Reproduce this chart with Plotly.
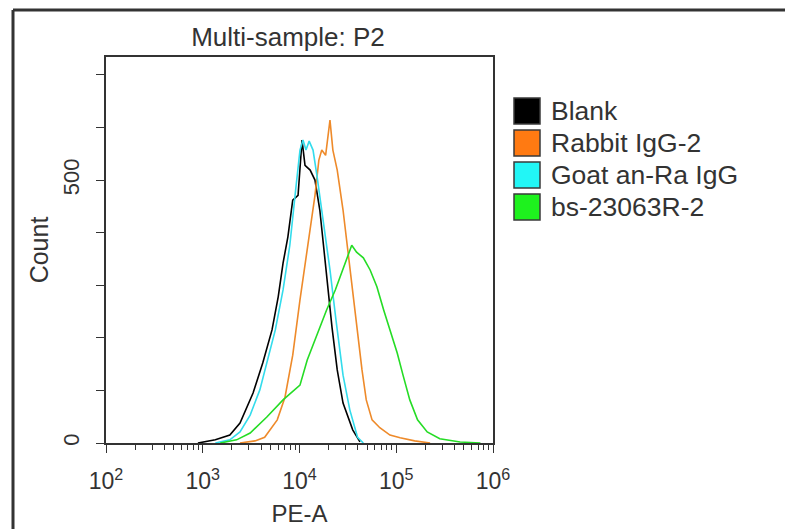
import numpy as np
import plotly.graph_objects as go

# ---------------- data ----------------
series_names = ["Blank", "Rabbit IgG-2", "Goat an-Ra IgG", "bs-23063R-2"]

blank_log10 = [2.95, 3.05, 3.13, 3.28, 3.385, 3.52, 3.62, 3.716, 3.78, 3.83, 3.88, 3.93,
               3.985, 4.026, 4.057, 4.11, 4.16, 4.21, 4.28, 4.336, 4.39, 4.45, 4.55, 4.625]
blank_count = [0, 3, 6, 15, 38, 95, 152, 215, 278, 342, 392, 462,
               471, 576, 528, 519, 500, 443, 315, 220, 139, 76, 25, 2]

rabbit_log10 = [3.385, 3.54, 3.64, 3.77, 3.85, 3.93, 4.005, 4.057, 4.11, 4.16, 4.2, 4.23,
                4.27, 4.315, 4.345, 4.39, 4.45, 4.5, 4.54, 4.59, 4.646, 4.69, 4.75, 4.83,
                4.935, 5.04, 5.19, 5.35]
rabbit_count = [0, 4, 11, 44, 87, 167, 272, 342, 405, 471, 538, 557,
                547, 614, 557, 519, 443, 367, 304, 220, 139, 82, 44, 29,
                15, 10, 4, 0]

goat_log10 = [3.13, 3.28, 3.385, 3.49, 3.59, 3.67, 3.75, 3.83, 3.9, 3.96, 4.005, 4.036,
              4.067, 4.1, 4.14, 4.18, 4.23, 4.315, 4.377, 4.45, 4.52, 4.6, 4.66]
goat_count = [0, 6, 21, 53, 101, 158, 215, 291, 376, 481, 557, 576,
              557, 574, 557, 509, 443, 329, 234, 129, 63, 11, 0]

bs_log10 = [3.18, 3.35, 3.49, 3.66, 3.83, 4.005, 4.08, 4.18, 4.28, 4.37, 4.44, 4.5,
            4.54, 4.59, 4.66, 4.73, 4.8, 4.87, 4.935, 5.01, 5.07, 5.14, 5.22, 5.32,
            5.45, 5.66, 5.87]
bs_count = [0, 6, 19, 49, 82, 110, 158, 205, 253, 291, 325, 357,
            376, 363, 352, 329, 297, 253, 215, 171, 129, 82, 44, 21,
            8, 2, 0]

x_tick_exponents = [2, 3, 4, 5, 6]
y_major_ticks = [0, 500]
y_minor_ticks = [100, 200, 300, 400, 600, 700]

# ---------------- styling ----------------
line_colors = ["#000000", "#ee8a2a", "#33dcec", "#25dc25"]
legend_colors = ["#000000", "#ff7a12", "#22f6f6", "#1ef21e"]
FONT = "Liberation Sans, Arial, sans-serif"
TXT = "#333333"

W, H = 785, 529
ML, MR, MT, MB = 106, 292, 57, 86
PW, PH = W - ML - MR, H - MT - MB


def px_x(px):
    return (px - ML) / PW


def px_y(py):
    return (H - MB - py) / PH


fig = go.Figure()
xs = [blank_log10, rabbit_log10, goat_log10, bs_log10]
ys = [blank_count, rabbit_count, goat_count, bs_count]
for name, lx, cy, col in zip(series_names, xs, ys, line_colors):
    fig.add_trace(go.Scatter(
        x=10 ** np.array(lx), y=cy, name=name, mode="lines",
        line=dict(color=col, width=1.6), showlegend=False,
    ))

# x minor ticks (2..9 within each decade)
minor_vals = [m * 10 ** e for e in x_tick_exponents[:-1] for m in range(2, 10)]

fig.update_xaxes(
    type="log", range=[2, 6], automargin=False,
    tickvals=[10 ** e for e in x_tick_exponents],
    ticktext=[f"10<sup>{e}</sup>" for e in x_tick_exponents],
    ticks="outside", ticklen=8, tickwidth=1.3, tickcolor="#333",
    minor=dict(tickvals=minor_vals, ticks="outside", ticklen=5, tickwidth=1.2, tickcolor="#333"),
    showgrid=False, zeroline=False,
    showline=True, linecolor="#333", linewidth=1.6, mirror=True,
    tickfont=dict(family=FONT, size=23, color=TXT),
    ticklabelstandoff=9,
    title=dict(text="PE-A", font=dict(family=FONT, size=24, color=TXT), standoff=12),
)
fig.update_yaxes(
    range=[0, 734], automargin=False,
    tickvals=y_major_ticks, ticktext=[str(v) for v in y_major_ticks], tickangle=-90,
    ticks="outside", ticklen=8, tickwidth=1.3, tickcolor="#333",
    minor=dict(tickvals=y_minor_ticks, ticks="outside", ticklen=8, tickwidth=1.3, tickcolor="#333"),
    showgrid=False, zeroline=False,
    showline=True, linecolor="#333", linewidth=1.6, mirror=True,
    tickfont=dict(family=FONT, size=22, color=TXT),
    ticklabelstandoff=8,
    title=dict(text="Count", font=dict(family=FONT, size=25, color=TXT), standoff=4),
)

shapes = []
annotations = []
# manual legend with large squares
row_centers = [111, 143, 175, 207]
for name, col, cy in zip(series_names, legend_colors, row_centers):
    shapes.append(dict(type="rect", xref="paper", yref="paper",
                       x0=px_x(514), x1=px_x(540), y0=px_y(cy + 13), y1=px_y(cy - 13),
                       fillcolor=col, line=dict(color="#3a3a3a", width=1.5)))
    annotations.append(dict(text=name, xref="paper", yref="paper",
                            x=px_x(549), y=px_y(cy), xanchor="left", yanchor="middle",
                            showarrow=False, font=dict(family=FONT, size=26.5, color=TXT)))

# outer frame (top and left edges visible)
shapes.append(dict(type="line", xref="paper", yref="paper",
                   x0=px_x(13), x1=px_x(800), y0=px_y(10), y1=px_y(10),
                   line=dict(color="#333", width=3)))
shapes.append(dict(type="line", xref="paper", yref="paper",
                   x0=px_x(13), x1=px_x(13), y0=px_y(10), y1=px_y(540),
                   line=dict(color="#333", width=3)))

fig.update_layout(
    width=W, height=H,
    margin=dict(l=ML, r=MR, t=MT, b=MB),
    paper_bgcolor="white", plot_bgcolor="white",
    title=dict(text="Multi-sample: P2", x=288 / W, xanchor="center",
               y=1 - 37 / H, yanchor="middle",
               font=dict(family=FONT, size=26, color=TXT)),
    shapes=shapes, annotations=annotations,
    showlegend=False,
)

fig.write_html("out.html", config={"displayModeBar": False},
               post_script="document.body.style.margin='0';document.body.style.overflow='hidden';")
